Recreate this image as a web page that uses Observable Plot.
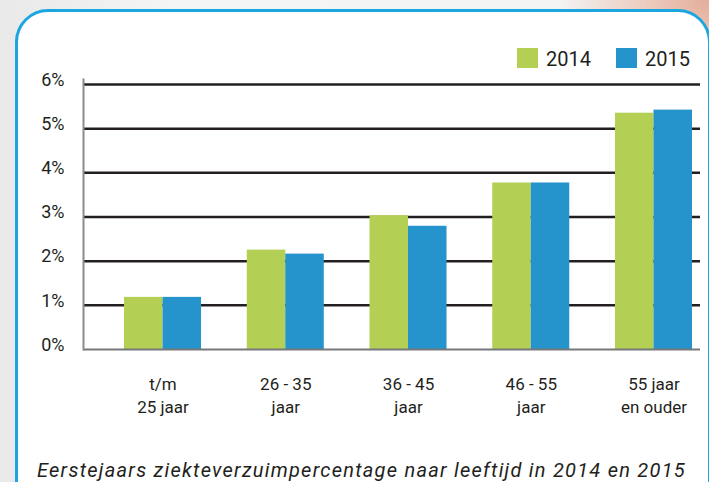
<!DOCTYPE html>
<html><head><meta charset="utf-8">
<script src="https://cdn.jsdelivr.net/npm/d3@7"></script>
<script src="https://cdn.jsdelivr.net/npm/@observablehq/plot@0.6"></script>
<style>
html,body{margin:0;padding:0;}
body{width:709px;height:482px;overflow:hidden;position:relative;
 background: radial-gradient(ellipse 150px 110px at 709px 0px, #e4ad9a 0%, #eccabd 40%, rgba(240,240,240,0) 100%), linear-gradient(90deg,#e9e9e9 0%,#f5f5f5 25%,#f3f3f3 100%);
 font-family: Roboto, "DejaVu Sans", sans-serif;}
#box{position:absolute;left:15px;top:9px;width:696px;height:520px;border:3.5px solid #1ba6df;border-radius:33px;background:#fff;box-sizing:border-box;}
#chart{position:absolute;left:0;top:0;}
.sw{position:absolute;width:21px;height:20px;}
.lt{position:absolute;font-size:20px;color:#231f20;line-height:20px;}
#cap{position:absolute;left:37px;top:460px;font-size:20px;line-height:20px;font-style:italic;color:#231f20;white-space:nowrap;letter-spacing:1.25px;}
</style></head>
<body>
<div id="box"></div>
<div id="chart"></div>
<div class="sw" style="left:517px;top:48px;background:#b3cf54"></div>
<div class="lt" style="left:546px;top:49px">2014</div>
<div class="sw" style="left:616px;top:48px;background:#2594cc"></div>
<div class="lt" style="left:645px;top:49px">2015</div>
<div id="cap">Eerstejaars ziekteverzuimpercentage naar leeftijd in 2014 en 2015</div>
<script>
const groups = ["g1","g2","g3","g4","g5"];
const groupLabels = ["t/m\n25 jaar","26 - 35\njaar","36 - 45\njaar","46 - 55\njaar","55 jaar\nen ouder"];
const values2014 = [1.18, 2.25, 3.03, 3.77, 5.35];
const values2015 = [1.18, 2.16, 2.79, 3.77, 5.42];
const yTicks = [0,1,2,3,4,5,6];

const W = 709, H = 440, mL = 83, mR = 9, mT = 84, mB = 91;
const pIn = 0.3727, pOut = 0.1996, al = 0.837;
const bw = d3.scaleBand().domain(groups).range([mL, W - mR]).paddingInner(pIn).paddingOuter(pOut).align(al).bandwidth();

const d14 = groups.map((g,i)=>({group:g, value:values2014[i]}));
const d15 = groups.map((g,i)=>({group:g, value:values2015[i]}));
const lab = groups.map((g,i)=>({group:g, label:groupLabels[i]}));

const chart = Plot.plot({
  width: W, height: H,
  marginLeft: mL, marginRight: mR, marginTop: mT, marginBottom: mB,
  style: {background:"transparent", fontFamily:"Roboto, sans-serif", color:"#231f20"},
  x: {domain: groups, paddingInner: pIn, paddingOuter: pOut, align: al, round: false, axis: null},
  y: {domain: [0,6], axis: null},
  marks: [
    Plot.ruleY(yTicks.filter(d=>d>0), {stroke:"#231f20", strokeWidth:2.5}),
    Plot.barY(d14, {x:"group", y:"value", fill:"#b3cf54", insetRight: bw/2}),
    Plot.barY(d15, {x:"group", y:"value", fill:"#2594cc", insetLeft: bw/2}),
    Plot.ruleY([0], {stroke:"#77787b", strokeWidth:2}),
    Plot.frame({anchor:"left", stroke:"#8a8b8d", strokeWidth:2, insetTop:-5}),
    Plot.text(yTicks, {y: d=>d, text: d=>d+"%", frameAnchor:"left", textAnchor:"end", dx:-19, dy:-4.5, fontSize:18, fill:"#231f20"}),
    Plot.text(lab, {x:"group", text:"label", frameAnchor:"bottom", lineAnchor:"top", dy:24, fontSize:17, lineHeight:1.37, fill:"#231f20"})
  ]
});
document.getElementById("chart").appendChild(chart);
</script>
</body></html>
